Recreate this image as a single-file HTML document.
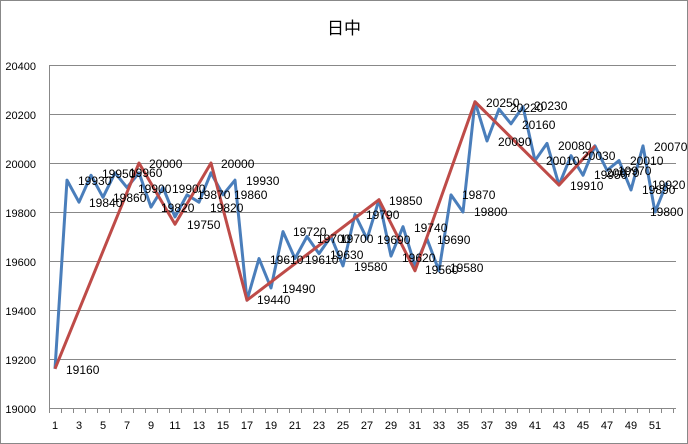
<!DOCTYPE html><html><head><meta charset="utf-8"><style>body{margin:0;background:#fff}svg{display:block;font-family:"Liberation Sans","Noto Sans CJK JP",sans-serif}</style></head><body>
<svg width="688" height="444" viewBox="0 0 688 444">
<rect x="0.5" y="0.5" width="687" height="443" fill="#fff" stroke="#888"/>
<text x="344" y="34" font-size="17" text-anchor="middle">日中</text>
<g stroke="#888" stroke-width="1">
<line x1="49" y1="65.5" x2="676" y2="65.5"/><line x1="49" y1="114.5" x2="676" y2="114.5"/><line x1="49" y1="163.5" x2="676" y2="163.5"/><line x1="49" y1="212.5" x2="676" y2="212.5"/><line x1="49" y1="261.5" x2="676" y2="261.5"/><line x1="49" y1="310.5" x2="676" y2="310.5"/><line x1="49" y1="359.5" x2="676" y2="359.5"/><line x1="49" y1="408.5" x2="676" y2="408.5"/>
<line x1="49.5" y1="65" x2="49.5" y2="408"/>
<path d="M49.5 408v5M61.5 408v5M73.5 408v5M85.5 408v5M97.5 408v5M109.5 408v5M121.5 408v5M133.5 408v5M145.5 408v5M157.5 408v5M169.5 408v5M181.5 408v5M193.5 408v5M205.5 408v5M217.5 408v5M229.5 408v5M241.5 408v5M253.5 408v5M265.5 408v5M277.5 408v5M289.5 408v5M301.5 408v5M313.5 408v5M325.5 408v5M337.5 408v5M349.5 408v5M361.5 408v5M373.5 408v5M385.5 408v5M397.5 408v5M409.5 408v5M421.5 408v5M433.5 408v5M445.5 408v5M457.5 408v5M469.5 408v5M481.5 408v5M493.5 408v5M505.5 408v5M517.5 408v5M529.5 408v5M541.5 408v5M553.5 408v5M565.5 408v5M577.5 408v5M589.5 408v5M601.5 408v5M613.5 408v5M625.5 408v5M637.5 408v5M649.5 408v5M661.5 408v5M673.5 408v5"/>
</g>
<g font-size="11" text-anchor="end"><text x="36" y="70">20400</text><text x="36" y="119">20200</text><text x="36" y="168">20000</text><text x="36" y="217">19800</text><text x="36" y="266">19600</text><text x="36" y="315">19400</text><text x="36" y="364">19200</text><text x="36" y="413">19000</text></g>
<g font-size="11" text-anchor="middle">
<text x="55" y="429">1</text><text x="79" y="429">3</text><text x="103" y="429">5</text><text x="127" y="429">7</text><text x="151" y="429">9</text><text x="175" y="429">11</text><text x="199" y="429">13</text><text x="223" y="429">15</text><text x="247" y="429">17</text><text x="271" y="429">19</text><text x="295" y="429">21</text><text x="319" y="429">23</text><text x="343" y="429">25</text><text x="367" y="429">27</text><text x="391" y="429">29</text><text x="415" y="429">31</text><text x="439" y="429">33</text><text x="463" y="429">35</text><text x="487" y="429">37</text><text x="511" y="429">39</text><text x="535" y="429">41</text><text x="559" y="429">43</text><text x="583" y="429">45</text><text x="607" y="429">47</text><text x="631" y="429">49</text><text x="655" y="429">51</text>
</g>
<polyline id="blue" fill="none" stroke="#4a7ebb" stroke-width="3" stroke-linejoin="round"/>
<polyline id="red" fill="none" stroke="#be4b48" stroke-width="3" stroke-linejoin="round"/>
<g font-size="12">
<text x="66" y="374">19160</text>
<text x="78" y="185">19930</text><text x="89" y="207">19840</text><text x="102" y="178">19950</text><text x="113" y="202">19860</text><text x="129" y="177">19960</text>
<text x="149" y="168">20000</text><text x="138" y="193">19900</text><text x="172" y="193">19900</text><text x="161" y="212">19820</text><text x="187" y="229">19750</text><text x="197" y="199">19870</text><text x="210" y="212">19820</text><text x="221" y="168">20000</text><text x="246" y="185">19930</text><text x="234" y="199">19860</text>
<text x="257" y="304">19440</text><text x="282" y="293">19490</text><text x="270" y="264">19610</text><text x="305" y="264">19610</text><text x="293" y="236">19720</text><text x="317" y="243">19700</text><text x="340" y="243">19700</text><text x="330" y="259">19630</text><text x="354" y="271">19580</text><text x="366" y="219">19790</text><text x="389" y="205">19850</text><text x="377" y="244">19690</text><text x="402" y="262">19620</text><text x="414" y="232">19740</text><text x="425" y="274">19560</text><text x="437" y="244">19690</text><text x="450" y="272">19580</text>
<text x="462" y="199">19870</text><text x="474" y="216">19800</text><text x="486" y="107">20250</text><text x="510" y="112">20220</text><text x="534" y="110">20230</text><text x="522" y="129">20160</text><text x="498" y="146">20090</text><text x="546" y="165">20010</text><text x="558" y="150">20080</text><text x="570" y="190">19910</text><text x="582" y="160">20030</text><text x="594" y="179">19950</text><text x="606" y="177">20070</text><text x="618" y="175">19970</text><text x="630" y="165">20010</text><text x="642" y="194">19890</text><text x="654" y="151">20070</text><text x="652" y="189">19920</text><text x="650" y="216">19800</text>
</g>
<script>
var X=i=>55+12*(i-1),Y=v=>408-(v-19000)*0.245;
var b=[19160,19930,19840,19950,19860,19960,19900,19960,19820,19900,19780,19870,19840,19960,19870,19930,19440,19610,19490,19720,19610,19700,19630,19700,19580,19790,19690,19850,19620,19740,19580,19690,19560,19870,19800,20250,20090,20220,20160,20230,20010,20080,19910,20030,19950,20070,19970,20010,19890,20070,19800,19920];
document.getElementById('blue').setAttribute('points',b.map((v,i)=>X(i+1)+','+Y(v)).join(' '));
var r=[[1,19160],[8,20000],[11,19750],[14,20000],[17,19440],[28,19850],[31,19560],[36,20250],[43,19910],[46,20070]];
document.getElementById('red').setAttribute('points',r.map(p=>X(p[0])+','+Y(p[1])).join(' '));
</script>
</svg></body></html>
